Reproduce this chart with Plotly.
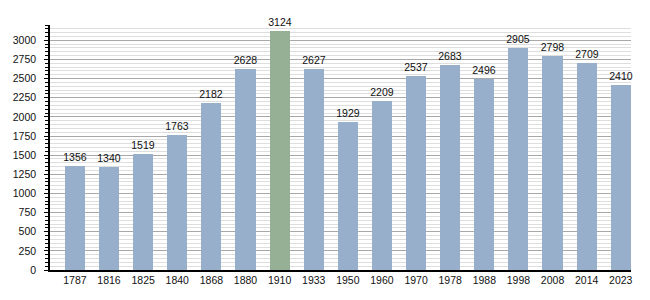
import plotly.graph_objects as go

years = ["1787", "1816", "1825", "1840", "1868", "1880", "1910", "1933", "1950",
         "1960", "1970", "1978", "1988", "1998", "2008", "2014", "2023"]
population = [1356, 1340, 1519, 1763, 2182, 2628, 3124, 2627, 1929,
              2209, 2537, 2683, 2496, 2905, 2798, 2709, 2410]
y_ticks = list(range(0, 3001, 250))

blue = "#97AFCA"
green = "#95B095"
max_val = max(population)
colors = [green if v == max_val else blue for v in population]
xs = list(range(len(years)))

fig = go.Figure(go.Bar(
    x=xs, y=population, width=0.59,
    marker=dict(color=colors, line=dict(width=0)),
    text=[str(v) for v in population], textposition="outside",
    constraintext="none",
    textfont=dict(family="Liberation Sans, Arial, sans-serif", size=10.5, color="#111"),
    cliponaxis=False,
))

fig.update_layout(
    width=650, height=300,
    margin=dict(l=50, r=19, t=25, b=30),
    paper_bgcolor="white", plot_bgcolor="white",
    showlegend=False, bargap=0,
    font=dict(family="Liberation Sans, Arial, sans-serif", size=11, color="#111"),
    xaxis=dict(
        tickmode="array", tickvals=xs, ticktext=years,
        range=[-0.73, 16.3], showgrid=False, ticks="",
        showline=True, linecolor="black", linewidth=1.5,
        tickfont=dict(size=10.5),
    ),
    yaxis=dict(
        range=[0, 3200], tickvals=y_ticks,
        showline=True, linecolor="black", linewidth=1.5,
        ticks="outside", ticklen=4, tickcolor="black", tickwidth=1,
        ticklabelstandoff=6,
        gridcolor="#A8A8A8", gridwidth=1,
        zeroline=False, tickfont=dict(size=10.5),
        minor=dict(dtick=50, tick0=0, ticks="outside", ticklen=3, tickcolor="black",
                   showgrid=True, gridcolor="#DEDEDE", gridwidth=1),
    ),
)

fig.write_html("out.html")
